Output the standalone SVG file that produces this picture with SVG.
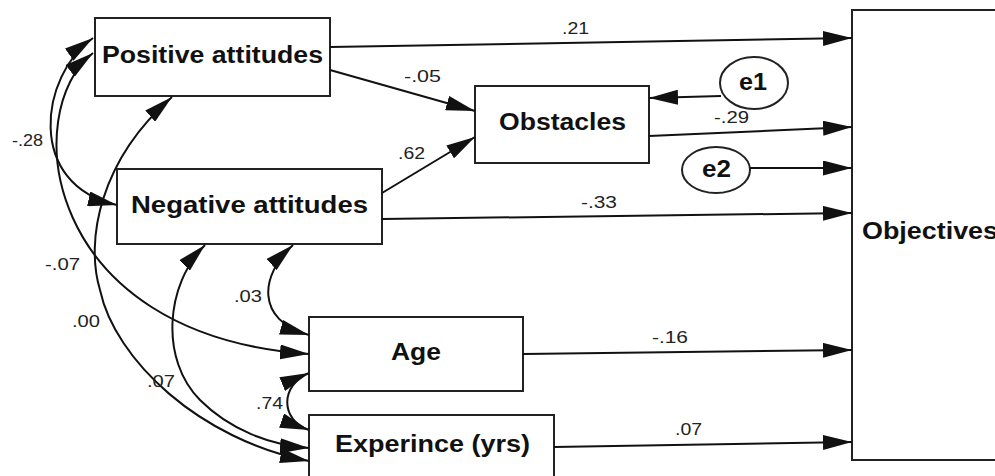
<svg xmlns="http://www.w3.org/2000/svg" width="995" height="476" viewBox="0 0 995 476">
<defs>
<marker id="ah" markerUnits="userSpaceOnUse" markerWidth="29" markerHeight="15" refX="29" refY="7.5" orient="auto-start-reverse">
<path d="M0,0 L29,7.5 L0,15 z" fill="#111"/>
</marker>
<style>
.box{fill:#fff;stroke:#222;stroke-width:2}
.lbl{font-family:"Liberation Sans",Arial,sans-serif;font-weight:bold;font-size:23px;fill:#111}
.num{font-family:"Liberation Sans",Arial,sans-serif;font-size:16px;fill:#222}
.c{fill:none;stroke:#111;stroke-width:2;marker-end:url(#ah)}
.cv{fill:none;stroke:#111;stroke-width:2;marker-start:url(#ah);marker-end:url(#ah)}
</style>
</defs>
<rect width="995" height="476" fill="#fff"/>
<g id="node-positive">
<rect class="box" x="95" y="18" width="235" height="78"/>
<text class="lbl" x="102" y="63" textLength="221" lengthAdjust="spacingAndGlyphs">Positive attitudes</text>
</g>
<g id="node-negative">
<rect class="box" x="117" y="169" width="265" height="75"/>
<text class="lbl" x="131" y="213" textLength="237" lengthAdjust="spacingAndGlyphs">Negative attitudes</text>
</g>
<g id="node-obstacles">
<rect class="box" x="475" y="86" width="174" height="77"/>
<text class="lbl" x="499" y="130" textLength="127" lengthAdjust="spacingAndGlyphs">Obstacles</text>
</g>
<g id="node-age">
<rect class="box" x="309" y="317" width="214" height="74"/>
<text class="lbl" x="391" y="360" textLength="50" lengthAdjust="spacingAndGlyphs">Age</text>
</g>
<g id="node-experience">
<rect class="box" x="309" y="415" width="245" height="64"/>
<text class="lbl" x="335" y="452" textLength="195" lengthAdjust="spacingAndGlyphs">Experince (yrs)</text>
</g>
<g id="node-objectives">
<rect class="box" x="852" y="10" width="160" height="450"/>
<text class="lbl" x="862" y="239" textLength="136" lengthAdjust="spacingAndGlyphs">Objectives</text>
</g>
<g id="node-e1">
<ellipse class="box" cx="754" cy="83" rx="34" ry="26"/>
<text class="lbl" x="739" y="90" textLength="28" lengthAdjust="spacingAndGlyphs">e1</text>
</g>
<g id="node-e2">
<ellipse class="box" cx="716" cy="170" rx="34" ry="23"/>
<text class="lbl" x="702" y="177" textLength="29" lengthAdjust="spacingAndGlyphs">e2</text>
</g>
<g id="connectors">
<path class="c" d="M330,47 L852,38"/>
<path class="c" d="M330,70 L475,111"/>
<path class="c" d="M382,193 L475,137"/>
<path class="c" d="M721,96 L649,98"/>
<path class="c" d="M649,136 L852,127"/>
<path class="c" d="M750,168 L852,168"/>
<path class="c" d="M382,219 L852,213"/>
<path class="c" d="M523,354 L852,350"/>
<path class="c" d="M554,447 L852,442"/>
<path class="cv" d="M93,38 C40,75 25,185 117,205"/>
<path class="cv" d="M93,53 C20,110 40,335 309,354"/>
<path class="cv" d="M172,97 C100,160 85,240 100,290 C115,360 200,440 309,461"/>
<path class="cv" d="M205,245 C165,285 160,360 200,400 C230,430 270,445 309,448"/>
<path class="cv" d="M293,245 C260,275 255,320 309,335"/>
<path class="cv" d="M309,373 C280,385 280,420 309,430"/>
</g>
<g id="labels">
<text class="num" x="562" y="34" textLength="27" lengthAdjust="spacingAndGlyphs">.21</text>
<text class="num" x="404" y="82" textLength="37" lengthAdjust="spacingAndGlyphs">-.05</text>
<text class="num" x="398" y="159" textLength="27" lengthAdjust="spacingAndGlyphs">.62</text>
<text class="num" x="714" y="123" textLength="35" lengthAdjust="spacingAndGlyphs">-.29</text>
<text class="num" x="581" y="208" textLength="36" lengthAdjust="spacingAndGlyphs">-.33</text>
<text class="num" x="652" y="343" textLength="36" lengthAdjust="spacingAndGlyphs">-.16</text>
<text class="num" x="675" y="435" textLength="27" lengthAdjust="spacingAndGlyphs">.07</text>
<text class="num" x="12" y="146" textLength="31" lengthAdjust="spacingAndGlyphs">-.28</text>
<text class="num" x="45" y="270" textLength="35" lengthAdjust="spacingAndGlyphs">-.07</text>
<text class="num" x="72" y="327" textLength="28" lengthAdjust="spacingAndGlyphs">.00</text>
<text class="num" x="147" y="387" textLength="28" lengthAdjust="spacingAndGlyphs">.07</text>
<text class="num" x="234" y="302" textLength="28" lengthAdjust="spacingAndGlyphs">.03</text>
<text class="num" x="256" y="409" textLength="27" lengthAdjust="spacingAndGlyphs">.74</text>
</g>
</svg>
